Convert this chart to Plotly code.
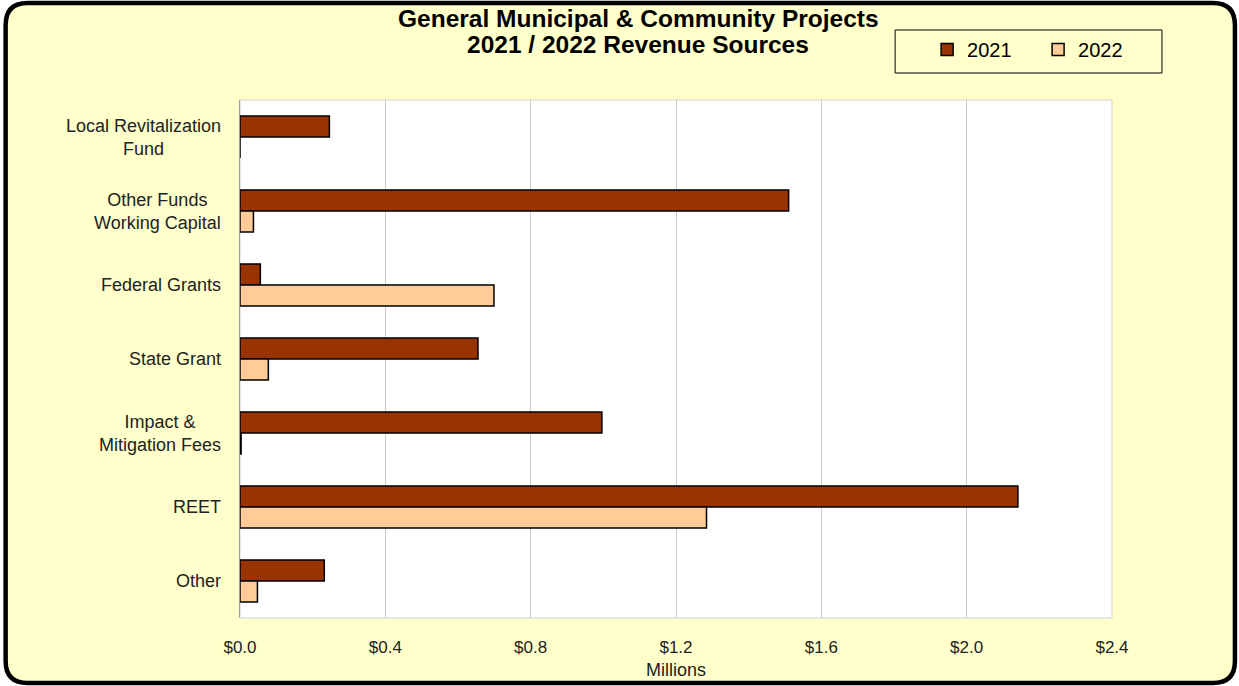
import plotly.graph_objects as go

categories = ["Local Revitalization<br>Fund", "Other Funds<br>Working Capital", "Federal Grants",
              "State Grant", "Impact &<br>Mitigation Fees", "REET", "Other"]
values_2021 = [0.246, 1.510, 0.056, 0.655, 0.996, 2.141, 0.232]
values_2022 = [0.0, 0.037, 0.699, 0.078, 0.003, 1.284, 0.048]
x_ticks = [0.0, 0.4, 0.8, 1.2, 1.6, 2.0, 2.4]
x_tick_text = ["$0.0", "$0.4", "$0.8", "$1.2", "$1.6", "$2.0", "$2.4"]

W_PX, H_PX = 1239, 686
L, R, T, B = 239.5, 1112, 100, 618
PW, PH = R - L, B - T

def px(x):
    return (x - L) / PW

def py(y):
    return (B - y) / PH

fig = go.Figure()
fig.add_trace(go.Bar(y=categories, x=values_2021, name="2021", orientation="h",
                     marker=dict(color="#993300", line=dict(color="#000000", width=1.5))))
fig.add_trace(go.Bar(y=categories, x=values_2022, name="2022", orientation="h",
                     marker=dict(color="#FFCC99", line=dict(color="#000000", width=1.5))))

# rounded outer frame
x0, x1, y0, y1, r = 5, 1235, 3, 683, 22
path = (f"M {px(x0+r)} {py(y0)} L {px(x1-r)} {py(y0)} Q {px(x1)} {py(y0)} {px(x1)} {py(y0+r)} "
        f"L {px(x1)} {py(y1-r)} Q {px(x1)} {py(y1)} {px(x1-r)} {py(y1)} "
        f"L {px(x0+r)} {py(y1)} Q {px(x0)} {py(y1)} {px(x0)} {py(y1-r)} "
        f"L {px(x0)} {py(y0+r)} Q {px(x0)} {py(y0)} {px(x0+r)} {py(y0)} Z")
shapes = [
    dict(type="path", xref="paper", yref="paper", path=path, fillcolor="#FFFFCC",
         line=dict(color="#000000", width=4.5), layer="below"),
    dict(type="rect", xref="paper", yref="paper", x0=0, x1=1, y0=0, y1=1,
         fillcolor="#FFFFFF", line=dict(color="#D0D0D0", width=1), layer="below"),
    dict(type="rect", xref="paper", yref="paper", x0=px(895), x1=px(1162), y0=py(73), y1=py(30),
         fillcolor="#FFFFCC", line=dict(color="#000000", width=1), layer="below"),
]

annotations = [
    dict(text="<b>General Municipal & Community Projects</b>",
         xref="paper", yref="paper", x=px(638), y=py(19), xanchor="center", yanchor="middle",
         showarrow=False, font=dict(size=24.5, color="#000000", family="Arial")),
    dict(text="<b>2021 / 2022 Revenue Sources</b>",
         xref="paper", yref="paper", x=px(638), y=py(44), xanchor="center", yanchor="middle",
         showarrow=False, font=dict(size=24.5, color="#000000", family="Arial")),
]
for c in categories:
    annotations.append(dict(text=c, xref="paper", yref="y", x=px(222), y=c,
                            xanchor="right", yanchor="middle", align="center",
                            showarrow=False,
                            font=dict(size=18, color="#222222", family="Arial")))

fig.update_layout(
    width=W_PX, height=H_PX,
    margin=dict(l=L, r=W_PX - R, t=T, b=H_PX - B, autoexpand=False),
    paper_bgcolor="#FFFFFF", plot_bgcolor="#FFFFFF",
    barmode="group", bargap=0.43, bargroupgap=0,
    font=dict(family="Arial", color="#222222"),
    shapes=shapes, annotations=annotations,
    legend=dict(orientation="h", x=px(927), xanchor="left", y=py(30), yanchor="top",
                bgcolor="rgba(0,0,0,0)", borderwidth=0,
                font=dict(size=20, color="#000000", family="Arial"), entrywidth=66),
    xaxis=dict(range=[0, 2.4], tickvals=x_ticks, ticktext=x_tick_text,
               showgrid=True, gridcolor="#C8C8C8", gridwidth=1, zeroline=False,
               showline=False, ticks="outside", ticklen=14, tickcolor="rgba(0,0,0,0)",
               tickfont=dict(size=17, color="#222222"),
               title=dict(text="Millions", font=dict(size=18, color="#222222"), standoff=6)),
    yaxis=dict(autorange="reversed", showticklabels=False, showgrid=False, zeroline=False,
               showline=True, linecolor="#A0A0A0", linewidth=1, ticks=""),
)

fig.write_html("out.html", config={"displayModeBar": False},
               post_script="document.body.style.margin='0';")
